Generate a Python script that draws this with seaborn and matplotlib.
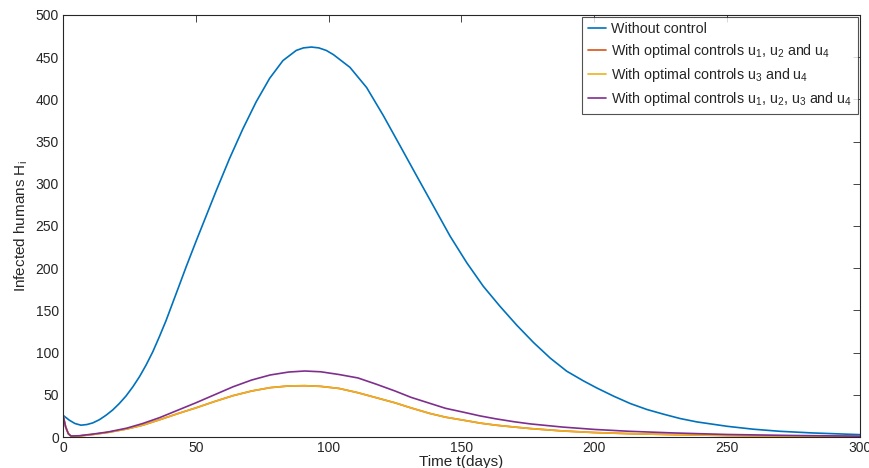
import numpy as np
import pandas as pd
import matplotlib
matplotlib.use("Agg")
import matplotlib.pyplot as plt
import seaborn as sns

# Values (time in days, infected humans)
t_blue = [0, 2.4, 4.5, 6.8, 9, 11.2, 13.7, 16.2, 18.7, 21.2, 23.7, 26.3, 28.8,
          31.3, 33.8, 36.3, 38.8, 41.3, 43.8, 46.4, 50.1, 53.9, 57.7, 62.7,
          67.7, 72.7, 77.8, 82.8, 87.8, 90.5, 93.5, 96.3, 99.1, 101.8, 108,
          114.3, 120.6, 126.8, 133.1, 139.4, 145.7, 152, 158.2, 164.5, 170.8,
          177.1, 183.4, 189.6, 195.9, 201, 207.2, 213.5, 219.8, 226.1, 232.3,
          238.6, 250, 259.7, 269.7, 282.3, 300]
h_blue = [25.8, 19.9, 16, 14, 14.8, 16.7, 20.5, 25.8, 32, 39.7, 48.5, 59.5,
          71.5, 85.4, 101, 119, 138, 159, 180, 202, 232, 262, 292, 330, 365,
          397, 425, 446, 458, 461, 462, 461, 458, 453, 438, 414, 380.7,
          345.5, 309.5, 273.8, 238, 206.4, 178.6, 154.8, 132.5, 112, 93.5, 78,
          66.5, 58, 48.5, 39.7, 32.6, 27, 21.9, 17.9, 12.7, 9.3, 6.8, 4.8,
          2.8]

t_ctrl = [0, 1, 2, 3, 6, 11.3, 17, 24, 30, 36.4, 43, 50, 57, 64, 71, 78, 85,
          91, 97, 104, 111, 118, 125, 131, 138, 144, 150.6, 157, 163, 170,
          176, 188, 200, 213, 230, 250, 275, 300]
h_u3u4 = [26, 12, 4, 1, 1.2, 3, 5.5, 9.5, 14, 20.5, 27.5, 34.5, 42, 49, 54.5,
          58.5, 60.5, 60.8, 60, 57.5, 52.5, 46.5, 40.5, 34.5, 28, 23.5, 20,
          16.5, 14, 11.8, 10, 7.2, 5.3, 4, 2.8, 1.8, 1, 0.6]
h_u1u2u4 = list(h_u3u4)
h_all = [26, 12, 4, 1.2, 1.5, 3.5, 6, 10.5, 16, 23, 31.5, 40.5, 50, 59.5,
         67.5, 73.5, 77, 78.2, 77.3, 74, 70, 62.5, 54.5, 47, 40, 34, 29.5,
         25, 21.5, 18, 15.5, 11.8, 9, 6.8, 4.8, 3, 1.8, 1]

labels = ["Without control",
          r"With optimal controls u$_1$, u$_2$ and u$_4$",
          r"With optimal controls u$_3$ and u$_4$",
          r"With optimal controls u$_1$, u$_2$, u$_3$ and u$_4$"]
colors = ["#0072BD", "#D95319", "#EDB120", "#7E2F8E"]

frames = []
for lab, t, h in zip(labels, [t_blue, t_ctrl, t_ctrl, t_ctrl],
                     [h_blue, h_u1u2u4, h_u3u4, h_all]):
    frames.append(pd.DataFrame({"t": t, "H": h, "scenario": lab}))
df = pd.concat(frames, ignore_index=True)

sns.set_style("white")
plt.rcParams['font.family'] = ['Liberation Sans', 'DejaVu Sans']
plt.rcParams['mathtext.fontset'] = 'custom'
plt.rcParams['mathtext.rm'] = 'Liberation Sans'
plt.rcParams['mathtext.it'] = 'Liberation Sans'

fig = plt.figure(figsize=(8.7, 4.68), dpi=100)
ax = fig.add_axes([0.0724, 0.0662, 0.9161, 0.9018])

sns.lineplot(data=df, x="t", y="H", hue="scenario", hue_order=labels,
             palette=dict(zip(labels, colors)), linewidth=1.2, ax=ax,
             estimator=None, sort=True)

ax.set_xlim(0, 300)
ax.set_ylim(0, 500)
ax.set_xticks(np.arange(0, 301, 50))
ax.set_yticks(np.arange(0, 501, 50))
ax.tick_params(direction="in", length=5, width=0.6, top=True, right=True,
               labelsize=10, colors="#262626", pad=3)
for s in ax.spines.values():
    s.set_color("#262626")
    s.set_linewidth(0.8)

ax.set_xlabel("Time t(days)", fontsize=11, color="#262626", labelpad=0)
ax.set_ylabel(r"Infected humans H$_\mathrm{i}$", fontsize=11, color="#262626",
              labelpad=4)

leg = ax.legend(loc="upper right", fontsize=10.3, frameon=True, fancybox=False,
                handlelength=1.3, handletextpad=0.35, borderpad=0.4,
                labelspacing=0.42, borderaxespad=0.12)
leg.get_frame().set_edgecolor("#262626")
leg.get_frame().set_linewidth(0.8)
leg.set_title(None)

fig.savefig("out.png", dpi=100)
